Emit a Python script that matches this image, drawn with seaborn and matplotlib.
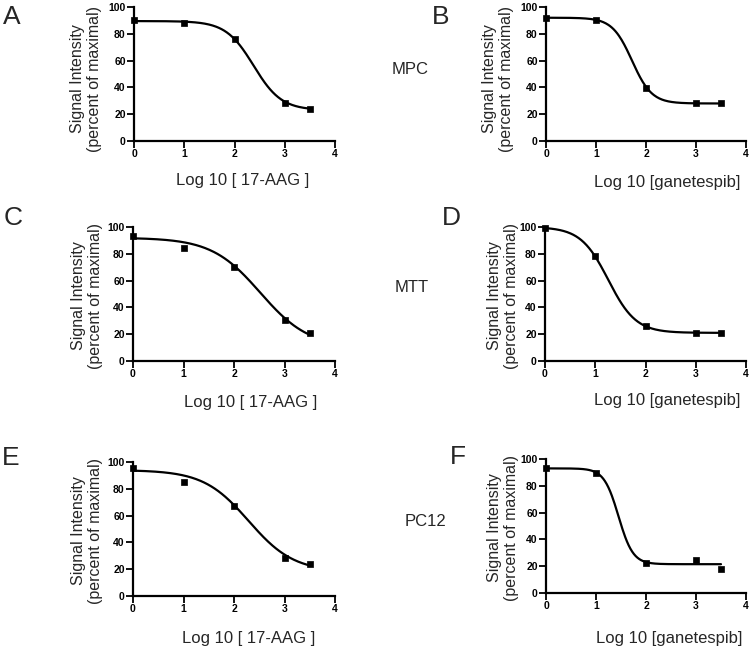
#!/usr/bin/env python3
"""
Dose-response curves for 17-AAG and ganetespib in MPC, MTT and PC12 assays.
"""

import matplotlib

matplotlib.use("Agg")
import matplotlib.pyplot as plt
import numpy as np
import seaborn as sns

W, H = 753, 648

log_dose = [0, 1, 2, 3, 3.5]

aag_mpc = [90, 88, 76, 28.5, 24]
gan_mpc = [92, 90.5, 39.5, 28.5, 28]
aag_mtt = [93.5, 84.5, 70.5, 30.5, 21]
gan_mtt = [99, 78, 26, 21, 21]
aag_pc12 = [95.5, 85, 67, 28.5, 24]
gan_pc12 = [93, 89.5, 22.5, 24.5, 18]

# 4PL fit parameters: top, bottom, logIC50, hill slope
fit_aag_mpc = (89.5, 23, 2.38, 1.57)
fit_gan_mpc = (92, 28, 1.72, 2.2)
fit_aag_mtt = (92, 10, 2.52, 0.9)
fit_gan_mtt = (100, 21, 1.26, 1.58)
fit_aag_pc12 = (94, 18, 2.29, 0.97)
fit_gan_pc12 = (93, 21.5, 1.45, 3.0)

xlabel_aag = "Log 10 [ 17-AAG ]"
xlabel_gan = "Log 10 [ganetespib]"
ylabel = "Signal Intensity\n(percent of maximal)"

# letter, values, fit, xlabel, axes box (left, right, top, bottom px),
# letter pos, ylabel pos, xlabel pos
panels = [
    ("A", aag_mpc, fit_aag_mpc, xlabel_aag, (134, 335, 7, 141), (12, 17), (86, 79), (243, 180)),
    ("B", gan_mpc, fit_gan_mpc, xlabel_gan, (546, 746, 7, 141), (441, 17), (498, 79), (667, 183)),
    ("C", aag_mtt, fit_aag_mtt, xlabel_aag, (133, 335, 227, 361), (13, 218), (87, 296), (251, 403)),
    ("D", gan_mtt, fit_gan_mtt, xlabel_gan, (545, 746, 227, 361), (451, 218), (503, 296), (667, 400)),
    ("E", aag_pc12, fit_aag_pc12, xlabel_aag, (133, 335, 462, 596), (11, 458), (87, 531), (249, 638)),
    ("F", gan_pc12, fit_gan_pc12, xlabel_gan, (546, 746, 459, 593), (458, 457), (503, 528), (669, 638)),
]

row_labels = [("MPC", (410, 69)), ("MTT", (412, 287)), ("PC12", (425, 522))]


def fx(px):
    return px / W


def fy(py):
    return 1 - py / H


def four_pl(x, top, bottom, logic50, hill):
    return bottom + (top - bottom) / (1 + 10 ** ((x - logic50) * hill))


def main() -> None:
    sns.set_theme(style="ticks")
    plt.rcParams["font.family"] = ["Liberation Sans", "DejaVu Sans"]

    fig = plt.figure(figsize=(W / 100, H / 100), dpi=100)

    for letter, vals, fit, xlab, box, lpos, ylpos, xlpos in panels:
        left, right, top, bottom = box
        ax = fig.add_axes([fx(left), fy(bottom), (right - left) / W, (bottom - top) / H])

        xs = np.linspace(0, 3.5, 200)
        sns.lineplot(x=xs, y=four_pl(xs, *fit), ax=ax, color="black", linewidth=1.6)
        sns.scatterplot(
            x=log_dose,
            y=vals,
            ax=ax,
            marker="s",
            s=24,
            color="black",
            edgecolor="black",
            linewidth=0.5,
            clip_on=False,
            zorder=3,
        )

        ax.set_xlim(0, 4)
        ax.set_ylim(0, 100)
        ax.set_xticks([0, 1, 2, 3, 4])
        ax.set_yticks([0, 20, 40, 60, 80, 100])
        ax.set_xlabel("")
        ax.set_ylabel("")
        sns.despine(ax=ax)
        for side in ("left", "bottom"):
            ax.spines[side].set_linewidth(1.6)
            ax.spines[side].set_color("black")
        ax.tick_params(direction="out", length=5, width=1.3, labelsize=7.5, pad=1,
                       colors="black")
        plt.setp(ax.get_xticklabels() + ax.get_yticklabels(), fontweight="bold")

        fig.text(fx(lpos[0]), fy(lpos[1]), letter, fontsize=19, ha="center", va="center")
        fig.text(fx(ylpos[0]), fy(ylpos[1]), ylabel, fontsize=11.5, rotation=90,
                 ha="center", va="center", multialignment="center", linespacing=1.2)
        fig.text(fx(xlpos[0]), fy(xlpos[1]), xlab, fontsize=12, ha="center", va="center")

    for text, (px, py) in row_labels:
        fig.text(fx(px), fy(py), text, fontsize=12, ha="center", va="center")

    fig.savefig("out.png", dpi=100)


if __name__ == "__main__":
    main()
